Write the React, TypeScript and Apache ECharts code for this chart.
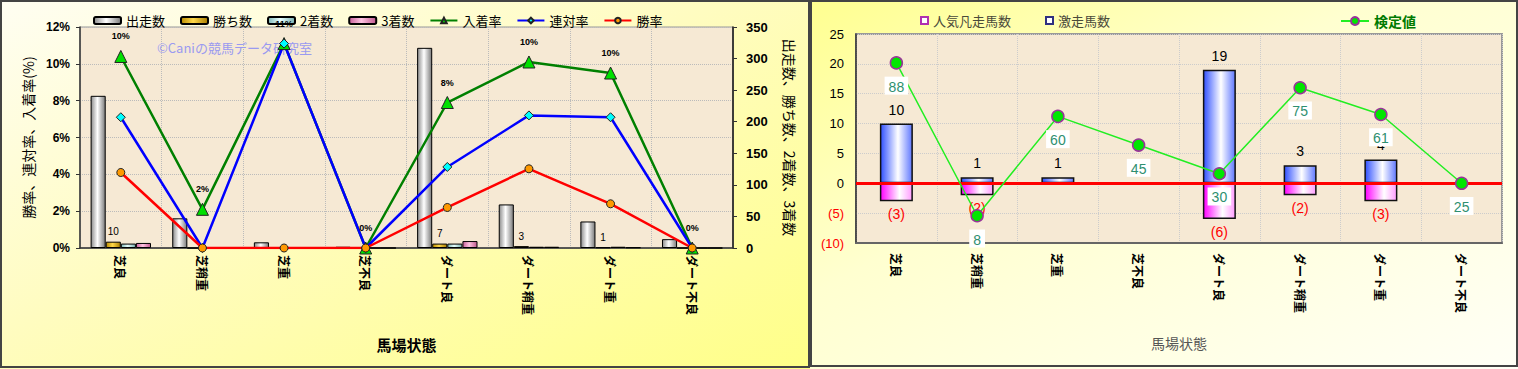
import React, { useEffect, useRef } from 'react';
import * as echarts from 'echarts';

// ---------- data ----------
const categories = ['芝良', '芝稍重', '芝重', '芝不良', 'ダート良', 'ダート稍重', 'ダート重', 'ダート不良'];
const runs = [241, 47, 9, 2, 317, 69, 42, 14];
const wins = [10, 0, 0, 0, 7, 3, 1, 0];
const seconds = [7, 0, 1, 0, 7, 2, 2, 0];
const thirds = [8, 1, 0, 0, 11, 2, 1, 0];
const placeRate = [10.4, 2.1, 11.1, 0, 7.9, 10.1, 9.5, 0];
const quinellaRate = [7.1, 0, 11.1, 0, 4.4, 7.2, 7.1, 0];
const winRate = [4.1, 0, 0, 0, 2.2, 4.3, 2.4, 0];

const hits = [10, 1, 1, 0, 19, 3, 4, 0];
const flops = [-3, -2, 0, 0, -6, -2, -3, 0];
const testValues = [88, 8, 60, 45, 30, 75, 61, 25];

const JP = '"Noto Sans CJK JP", sans-serif';
const NUM = '"Liberation Sans", "Noto Sans CJK JP", sans-serif';

const hGrad = (a: string, b: string, c: string, mid = 0.45) =>
  new echarts.graphic.LinearGradient(0, 0, 1, 0, [
    { offset: 0, color: a },
    { offset: mid, color: b },
    { offset: 1, color: c },
  ]);

function leftOption(): any {
  const barBase = (name: string, data: number[], color: any, extra: any = {}) => ({
    name,
    type: 'bar',
    yAxisIndex: 1,
    data,
    barGap: '0%',
    barCategoryGap: '26%',
    itemStyle: { color, borderColor: '#000', borderWidth: 1 },
    ...extra,
  });
  const lineBase = (name: string, data: number[], lineColor: string, symbol: string, size: number, fill: string, extra: any = {}) => ({
    name,
    type: 'line',
    yAxisIndex: 0,
    data,
    symbol,
    symbolSize: size,
    lineStyle: { color: lineColor, width: 2.5 },
    itemStyle: { color: fill, borderColor: '#222', borderWidth: 1 },
    z: 5,
    ...extra,
  });
  return {
    animation: false,
    backgroundColor: 'transparent',
    textStyle: { fontFamily: JP },
    legend: {
      top: 9,
      left: 88,
      itemWidth: 27,
      itemHeight: 7,
      itemGap: 15,
      textStyle: { fontSize: 13, color: '#000', fontFamily: JP },
      data: ['出走数', '勝ち数', '2着数', '3着数', '入着率', '連対率', '勝率'],
    },
    grid: {
      left: 80,
      right: 77,
      top: 27,
      bottom: 121,
      show: true,
      backgroundColor: '#f6e9d4',
      borderColor: '#999',
      borderWidth: 1,
    },
    graphic: [
      {
        type: 'text',
        left: 157,
        top: 41,
        z: 1,
        style: { text: '©Caniの競馬データ研究室', fill: '#9a9af0', font: '13px "Noto Sans CJK JP", sans-serif' },
      },
    ],
    xAxis: {
      type: 'category',
      data: categories,
      axisLine: { lineStyle: { color: '#333', width: 1.5 } },
      axisTick: { show: false },
      axisLabel: { rotate: -90, margin: 7, fontSize: 12, fontWeight: 'bold', color: '#000', fontFamily: JP },
      splitLine: { show: true, lineStyle: { color: '#bbb', type: 'dotted' } },
      name: '馬場状態',
      nameLocation: 'middle',
      nameGap: 89,
      nameTextStyle: { fontSize: 15, fontWeight: 'bold', color: '#000', fontFamily: JP },
    },
    yAxis: [
      {
        type: 'value',
        min: 0,
        max: 12,
        interval: 2,
        position: 'left',
        axisLine: { show: true, lineStyle: { color: '#333', width: 1.5 } },
        axisTick: { show: true, length: 4, lineStyle: { color: '#333' } },
        axisLabel: { formatter: '{value}%', fontSize: 12, fontWeight: 'bold', color: '#000', margin: 10, fontFamily: NUM },
        splitLine: { show: true, lineStyle: { color: '#bbb', type: 'dotted' } },
        name: '勝率、連対率、入着率(%)',
        nameLocation: 'middle',
        nameRotate: 90,
        nameGap: 38,
        nameTextStyle: { fontSize: 14, color: '#000', fontFamily: JP },
      },
      {
        type: 'value',
        min: 0,
        max: 350,
        interval: 50,
        position: 'right',
        axisLine: { show: true, lineStyle: { color: '#111', width: 1.5 } },
        axisTick: { show: true, length: 4, lineStyle: { color: '#333' } },
        axisLabel: { fontSize: 13, fontWeight: 'bold', color: '#000', margin: 13, fontFamily: NUM },
        splitLine: { show: false },
        name: '出走数、勝ち数、2着数、3着数',
        nameLocation: 'middle',
        nameRotate: -90,
        nameGap: 50,
        nameTextStyle: { fontSize: 14, color: '#000', fontFamily: JP },
      },
    ],
    series: [
      barBase('出走数', runs, hGrad('#8c8c8c', '#ffffff', '#7a7a7a')),
      barBase('勝ち数', wins, hGrad('#b88a00', '#ffd84a', '#a87c00'), {
        label: {
          show: true,
          position: 'top',
          fontSize: 10,
          color: '#000',
          fontFamily: NUM,
          formatter: (p: any) => (p.value ? String(p.value) : ''),
        },
      }),
      barBase('2着数', seconds, hGrad('#7fb8b8', '#e8ffff', '#78b0b0')),
      barBase('3着数', thirds, hGrad('#c8609a', '#ffc4e2', '#c0588f')),
      lineBase('入着率', placeRate, '#008000', 'triangle', 12, '#00e000', {
        label: {
          show: true,
          position: 'top',
          distance: 9,
          fontSize: 9,
          fontWeight: 'bold',
          color: '#000',
          fontFamily: NUM,
          formatter: (p: any) => Math.round(p.value) + '%',
        },
      }),
      lineBase('連対率', quinellaRate, '#0000ff', 'diamond', 9, '#00ffff'),
      lineBase('勝率', winRate, '#ff0000', 'circle', 8, '#ff9900'),
    ],
  };
}

function rightOption(): any {
  return {
    animation: false,
    backgroundColor: 'transparent',
    textStyle: { fontFamily: JP },
    legend: [
      {
        top: 9,
        left: 105,
        icon: 'rect',
        itemWidth: 7,
        itemHeight: 7,
        itemGap: 34,
        textStyle: { fontSize: 13, color: '#4a4a3a', fontFamily: JP },
        data: [
          { name: '人気凡走馬数', itemStyle: { color: '#fff', borderColor: '#b030b0', borderWidth: 2 } },
          { name: '激走馬数', itemStyle: { color: '#fff', borderColor: '#303080', borderWidth: 2 } },
        ],
      },
      {
        top: 9,
        left: 525,
        itemWidth: 28,
        itemHeight: 10,
        textStyle: { fontSize: 14, color: '#007a00', fontWeight: 'bold', fontFamily: JP },
        data: ['検定値'],
      },
    ],
    grid: {
      left: 46,
      right: 16,
      top: 34,
      bottom: 126,
      show: true,
      backgroundColor: '#f6e9d4',
      borderColor: '#999',
      borderWidth: 2,
    },
    xAxis: {
      type: 'category',
      data: categories,
      axisLine: { onZero: false, lineStyle: { color: '#666', width: 2 } },
      axisTick: { show: false },
      axisLabel: { rotate: -90, margin: 10, fontSize: 12, fontWeight: 'bold', color: '#000', fontFamily: JP },
      splitLine: { show: true, lineStyle: { color: '#ccc', type: 'dotted' } },
      name: '馬場状態',
      nameLocation: 'middle',
      nameGap: 93,
      nameTextStyle: { fontSize: 14, color: '#555', fontFamily: JP },
    },
    yAxis: [
      {
        type: 'value',
        min: -10,
        max: 25,
        interval: 5,
        axisLine: { show: true, lineStyle: { color: '#333', width: 1.5 } },
        axisTick: { show: false },
        axisLabel: {
          margin: 12,
          fontSize: 13,
          fontFamily: NUM,
          formatter: (v: number) => (v < 0 ? `{neg|(${-v})}` : `{pos|${v}}`),
          rich: {
            neg: { color: '#ff0000', fontSize: 13, fontFamily: NUM },
            pos: { color: '#000', fontSize: 13, fontFamily: NUM },
          },
        },
        splitLine: { show: true, lineStyle: { color: '#ccc', type: 'dotted' } },
      },
      {
        type: 'value',
        min: -6.25,
        max: 103.125,
        show: false,
        splitLine: { show: false },
      },
    ],
    series: [
      {
        name: '人気凡走馬数',
        type: 'bar',
        stack: 'a',
        data: flops,
        barWidth: 33,
        itemStyle: {
          color: new echarts.graphic.LinearGradient(0, 0, 1, 0, [
            { offset: 0, color: '#ff00ff' },
            { offset: 0.6, color: '#ffffff' },
            { offset: 1, color: '#ff9cff' },
          ]),
          borderColor: '#111',
          borderWidth: 1.5,
        },
        label: {
          show: true,
          position: 'bottom',
          distance: 6,
          fontSize: 14,
          color: '#ff0000',
          fontFamily: NUM,
          formatter: (p: any) => (p.value ? `(${-p.value})` : ''),
        },
      },
      {
        name: '激走馬数',
        type: 'bar',
        stack: 'a',
        data: hits,
        barWidth: 33,
        itemStyle: {
          color: new echarts.graphic.LinearGradient(0, 0, 1, 0, [
            { offset: 0, color: '#3050ff' },
            { offset: 0.55, color: '#ffffff' },
            { offset: 1, color: '#6078ff' },
          ]),
          borderColor: '#111',
          borderWidth: 1.5,
        },
        label: {
          show: true,
          position: 'top',
          distance: 7,
          fontSize: 14,
          color: '#000',
          fontFamily: NUM,
          formatter: (p: any) => (p.value ? String(p.value) : ''),
        },
        markLine: {
          silent: true,
          symbol: 'none',
          label: { show: false },
          lineStyle: { color: '#ff0000', width: 3, type: 'solid' },
          data: [{ yAxis: 0 }],
          z: 4,
        },
      },
      {
        name: '検定値',
        type: 'line',
        yAxisIndex: 1,
        data: testValues,
        symbol: 'circle',
        symbolSize: 12,
        z: 6,
        lineStyle: { color: '#22ee22', width: 1.5 },
        itemStyle: { color: '#00e600', borderColor: '#993399', borderWidth: 1.5 },
        label: {
          show: true,
          position: 'bottom',
          distance: 7,
          fontSize: 14,
          color: '#2e8f70',
          fontFamily: NUM,
          backgroundColor: '#ffffff',
          padding: [3, 4, 1, 4],
        },
      },
    ],
  };
}

export default function App() {
  const leftRef = useRef<HTMLDivElement>(null);
  const rightRef = useRef<HTMLDivElement>(null);

  useEffect(() => {
    const c1 = echarts.init(leftRef.current!, undefined, { renderer: 'svg' });
    const c2 = echarts.init(rightRef.current!, undefined, { renderer: 'svg' });
    c1.setOption(leftOption());
    c2.setOption(rightOption());
    return () => {
      c1.dispose();
      c2.dispose();
    };
  }, []);

  return (
    <div style={{ position: 'fixed', left: 0, top: 0, width: 1518, height: 369, overflow: 'hidden' }}>
      <div
        style={{
          position: 'absolute', left: 0, top: 0, width: 810, height: 369,
          background: 'linear-gradient(to bottom right, #fffef2 0%, #fffcc0 45%, #ffff88 100%)',
        }}
      >
        <div ref={leftRef} style={{ width: 810, height: 369 }} />
        <div style={{ position: 'absolute', left: 0, top: 0, width: 810, height: 368, boxSizing: 'border-box', border: '2px solid #444', pointerEvents: 'none' }} />
      </div>
      <div
        style={{
          position: 'absolute', left: 810, top: 0, width: 708, height: 369,
          background: 'linear-gradient(to bottom right, #ffff90 0%, #ffffd0 40%, #fffff6 100%)',
        }}
      >
        <div ref={rightRef} style={{ width: 708, height: 369 }} />
        <div style={{ position: 'absolute', left: 0, top: 0, width: 708, height: 367, boxSizing: 'border-box', border: '2px solid #444', pointerEvents: 'none' }} />
      </div>
    </div>
  );
}
